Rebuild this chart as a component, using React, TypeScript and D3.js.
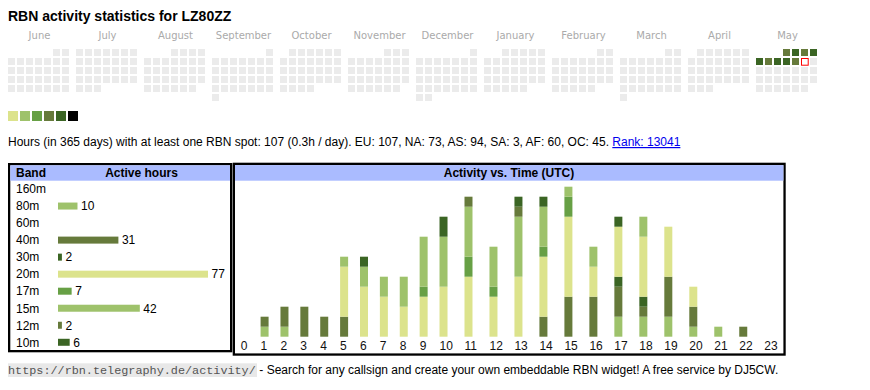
import React from 'react';
import * as d3 from 'd3';

// ---------- data ----------
const TITLE = 'RBN activity statistics for LZ80ZZ';
const MONTHS = ['June', 'July', 'August', 'September', 'October', 'November', 'December', 'January', 'February', 'March', 'April', 'May'];
const CAL_START = '2024-06-01';
const CAL_END = '2025-06-01';
const TODAY = '2025-05-10';
const ACTIVE_DAYS = ['2025-05-01', '2025-05-02', '2025-05-03', '2025-05-04', '2025-05-05', '2025-05-06', '2025-05-07', '2025-05-08', '2025-05-09'];
const ACTIVE_LEVELS = [4, 5, 4, 5, 5, 4, 5, 5, 4];
const LEVEL_COLORS = ['#dce38c', '#9ec26b', '#67a045', '#667a3b', '#3b6524', '#000000'];

const STATS_TEXT = 'Hours (in 365 days) with at least one RBN spot: 107 (0.3h / day). EU: 107, NA: 73, AS: 94, SA: 3, AF: 60, OC: 45. ';
const RANK_TEXT = 'Rank: 13041';

const BANDS = ['160m', '80m', '60m', '40m', '30m', '20m', '17m', '15m', '12m', '10m'];
const BAND_HOURS = [0, 10, 0, 31, 2, 77, 7, 42, 2, 6];
const BAND_COLORS = ['#dce38c', '#9ec26b', '#67a045', '#667a3b', '#3b6524', '#dce38c', '#67a045', '#9ec26b', '#667a3b', '#3b6524'];

const HOUR_LABELS = ['0', '1', '2', '3', '4', '5', '6', '7', '8', '9', '10', '11', '12', '13', '14', '15', '16', '17', '18', '19', '20', '21', '22', '23'];
const H_160M = [0, 0, 0, 0, 0, 0, 0, 0, 0, 0, 0, 0, 0, 0, 0, 0, 0, 0, 0, 0, 0, 0, 0, 0];
const H_80M = [0, 1, 1, 0, 0, 0, 0, 0, 0, 0, 0, 0, 0, 0, 0, 0, 0, 2, 2, 2, 1, 1, 0, 0];
const H_60M = [0, 0, 0, 0, 0, 0, 0, 0, 0, 0, 0, 0, 0, 0, 0, 0, 0, 0, 0, 0, 0, 0, 0, 0];
const H_40M = [0, 1, 2, 3, 2, 2, 0, 0, 0, 0, 0, 0, 0, 0, 2, 4, 4, 3, 1, 4, 2, 0, 1, 0];
const H_30M = [0, 0, 0, 0, 0, 0, 0, 0, 0, 0, 0, 0, 0, 0, 0, 0, 0, 1, 1, 0, 0, 0, 0, 0];
const H_20M = [0, 0, 0, 0, 0, 5, 5, 4, 3, 4, 5, 6, 4, 6, 6, 8, 3, 5, 6, 5, 2, 0, 0, 0];
const H_17M = [0, 0, 0, 0, 0, 0, 0, 0, 0, 1, 0, 2, 1, 0, 1, 2, 0, 0, 0, 0, 0, 0, 0, 0];
const H_15M = [0, 0, 0, 0, 0, 1, 2, 2, 3, 5, 5, 5, 4, 6, 4, 1, 2, 0, 2, 0, 0, 0, 0, 0];
const H_12M = [0, 0, 0, 0, 0, 0, 0, 0, 0, 0, 0, 1, 0, 1, 0, 0, 0, 0, 0, 0, 0, 0, 0, 0];
const H_10M = [0, 0, 0, 0, 0, 0, 1, 0, 0, 0, 2, 0, 0, 1, 1, 0, 0, 1, 0, 0, 0, 0, 0, 0];
const HOURLY = [H_160M, H_80M, H_60M, H_40M, H_30M, H_20M, H_17M, H_15M, H_12M, H_10M];

const FOOTER_URL = 'https://rbn.telegraphy.de/activity/';
const FOOTER_TEXT = '- Search for any callsign and create your own embeddable RBN widget! A free service by DJ5CW.';

const SANS = '"Liberation Sans", Arial, Helvetica, sans-serif';

export default function App() {
  const parse = d3.timeParse('%Y-%m-%d');
  const fmt = d3.timeFormat('%Y-%m-%d');
  const start = parse(CAL_START)!;
  const end = parse(CAL_END)!;
  const days = d3.timeDay.range(start, end);
  const levelByDay = new Map(ACTIVE_DAYS.map((d, i) => [d, ACTIVE_LEVELS[i]]));

  const monthX = d3.scaleBand<string>().domain(MONTHS).range([8, 8 + 68 * 12]);
  const cellStep = 9;
  const cellSize = 7;
  const calTop = 49;

  const cells = days.map((d) => {
    const mIdx = (d.getFullYear() - start.getFullYear()) * 12 + d.getMonth() - start.getMonth();
    const first = new Date(d.getFullYear(), d.getMonth(), 1);
    const firstWd = (first.getDay() + 6) % 7;
    const wd = (d.getDay() + 6) % 7;
    const row = Math.floor((d.getDate() - 1 + firstWd) / 7);
    const key = fmt(d);
    return {
      key,
      x: (monthX(MONTHS[mIdx]) as number) + wd * cellStep,
      y: calTop + row * cellStep,
      level: levelByDay.get(key),
      today: key === TODAY,
    };
  });

  // left table
  const rowBand = d3.scaleBand<string>().domain(BANDS).range([180.5, 180.5 + 17.03 * BANDS.length]);
  const barW = d3.scaleLinear().domain([0, d3.max(BAND_HOURS)!]).range([0, 150]);
  const barLeft = 58;

  // right chart
  const rows = HOUR_LABELS.map((h, i) => {
    const o: any = { hour: h };
    BANDS.forEach((b, j) => (o[b] = HOURLY[j][i]));
    return o;
  });
  const stack = d3.stack<any>().keys(BANDS)(rows);
  const totals = rows.map((r) => d3.sum(BANDS, (b) => r[b]));
  const yS = d3.scaleLinear().domain([0, d3.max(totals)!]).range([336.7, 186.7]);
  const colUnits = HOUR_LABELS.map((l) => 14.8 + 5.1 * l.length);
  const cum = [0, ...d3.cumsum(colUnits)];
  const colX = d3.scaleLinear().domain([0, cum[cum.length - 1]]).range([235, 783.5]);
  const colLeft = (i: number) => colX(cum[i]) + 5.7;

  return (
    <svg width={870} height={390} style={{ position: 'absolute', left: 0, top: 0, background: '#fff' }} fontFamily={SANS}>
      <text x={8} y={20.5} fontSize={14} fontWeight="bold" fill="#000">{TITLE}</text>

      {MONTHS.map((m) => (
        <text key={m} x={(monthX(m) as number) + 31.5} y={38.5} fontSize={10} fill="#aaaaaa" textAnchor="middle" fontFamily='"DejaVu Sans", Verdana, sans-serif'>{m}</text>
      ))}
      {cells.map((c) =>
        c.today ? (
          <rect key={c.key} x={c.x + 0.5} y={c.y + 0.5} width={cellSize - 0.3} height={cellSize - 0.3} fill="#fff" stroke="#ff0000" strokeWidth={1} />
        ) : (
          <rect key={c.key} x={c.x} y={c.y} width={cellSize} height={cellSize} fill={c.level ? LEVEL_COLORS[c.level - 1] : '#ebebeb'} />
        )
      )}

      {LEVEL_COLORS.map((c, i) => (
        <rect key={c} x={8 + i * 12} y={111} width={10} height={10} fill={c} />
      ))}

      <text x={8} y={146} fontSize={12} fill="#000">
        <tspan>{STATS_TEXT}</tspan>
        <tspan fill="#0000ee" style={{ textDecoration: 'underline' }} textDecoration="underline">{RANK_TEXT}</tspan>
      </text>

      {/* left table */}
      <rect x={8} y={163} width={224.3} height={189.3} fill="#000" />
      <rect x={10.3} y={165.3} width={219.7} height={184.7} fill="#fff" />
      <rect x={10.3} y={165.3} width={219.7} height={15.4} fill="#aabbff" />
      <text x={16} y={177.2} fontSize={12} fontWeight="bold">Band</text>
      <text x={141.5} y={177.2} fontSize={12} fontWeight="bold" textAnchor="middle">Active hours</text>
      {BANDS.map((b, i) => {
        const cy = (rowBand(b) as number) + rowBand.bandwidth() / 2;
        const v = BAND_HOURS[i];
        return (
          <g key={b}>
            <text x={16} y={cy + 4.3} fontSize={12}>{b}</text>
            {v > 0 && <rect x={barLeft} y={cy - 3.5} width={barW(v)} height={7} fill={BAND_COLORS[i]} />}
            {v > 0 && <text x={barLeft + barW(v) + 3.5} y={cy + 4.3} fontSize={12}>{v}</text>}
          </g>
        );
      })}

      {/* right chart */}
      <rect x={232.7} y={162.7} width={553} height={193} fill="#000" />
      <rect x={235} y={165.1} width={548.4} height={188.3} fill="#fff" />
      <rect x={235} y={165.1} width={548.4} height={15.6} fill="#aabbff" />
      <text x={509} y={177.2} fontSize={12} fontWeight="bold" textAnchor="middle">Activity vs. Time (UTC)</text>
      {stack.map((s, j) => (
        <g key={BANDS[j]} fill={BAND_COLORS[j]}>
          {s.map((d, i) =>
            d[1] > d[0] ? (
              <rect key={i} x={colLeft(i)} y={yS(d[1])} width={8} height={yS(d[0]) - yS(d[1])} />
            ) : null
          )}
        </g>
      ))}
      {HOUR_LABELS.map((h, i) => (
        <text key={h} x={colLeft(i)} y={350} fontSize={12} fill="#111">{h}</text>
      ))}

      {/* footer */}
      <rect x={8} y={363.3} width={249} height={13.7} fill="#e8e8e8" />
      <text x={8} y={374.2} fontSize={11.8} fill="#555" fontFamily='"Liberation Mono", "Courier New", monospace'>{FOOTER_URL}</text>
      <text x={259.3} y={374.2} fontSize={12} fill="#000">{FOOTER_TEXT}</text>
    </svg>
  );
}
